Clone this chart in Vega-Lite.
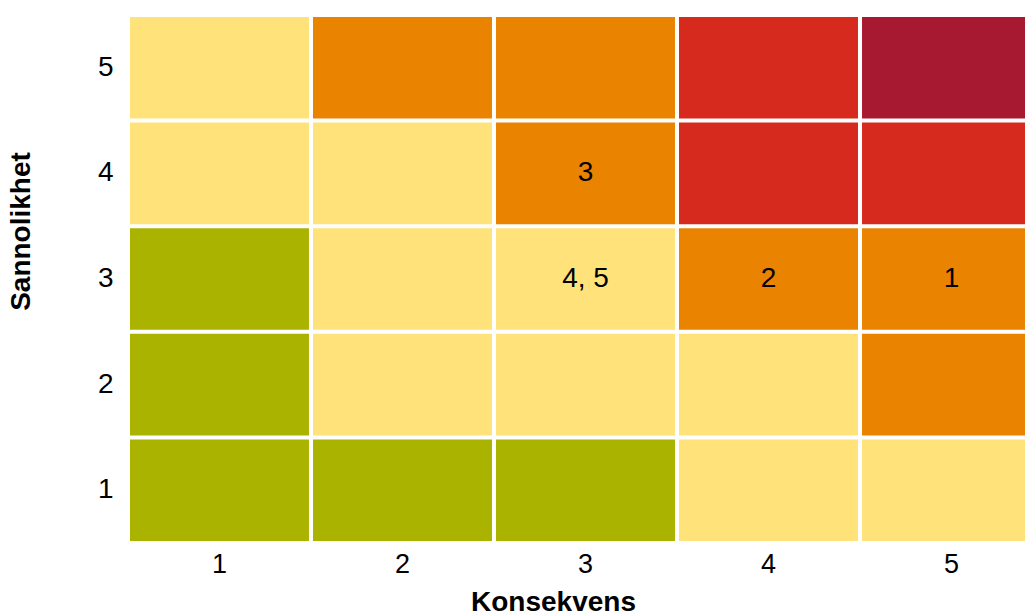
{
  "$schema": "https://vega.github.io/schema/vega-lite/v6.json",
  "width": 911,
  "height": 524,
  "autosize": {"type": "none"},
  "padding": {"left": 130, "top": 17, "right": 0, "bottom": 70},
  "background": "white",
  "config": {"view": {"stroke": null}, "font": "Liberation Sans"},
  "data": {"values": [
    {"k": 1, "s": 5, "niva": "middels", "id": ""},
    {"k": 2, "s": 5, "niva": "høy", "id": ""},
    {"k": 3, "s": 5, "niva": "høy", "id": ""},
    {"k": 4, "s": 5, "niva": "svært høy", "id": ""},
    {"k": 5, "s": 5, "niva": "kritisk", "id": ""},
    {"k": 1, "s": 4, "niva": "middels", "id": ""},
    {"k": 2, "s": 4, "niva": "middels", "id": ""},
    {"k": 3, "s": 4, "niva": "høy", "id": "3"},
    {"k": 4, "s": 4, "niva": "svært høy", "id": ""},
    {"k": 5, "s": 4, "niva": "svært høy", "id": ""},
    {"k": 1, "s": 3, "niva": "lav", "id": ""},
    {"k": 2, "s": 3, "niva": "middels", "id": ""},
    {"k": 3, "s": 3, "niva": "middels", "id": "4, 5"},
    {"k": 4, "s": 3, "niva": "høy", "id": "2"},
    {"k": 5, "s": 3, "niva": "høy", "id": "1"},
    {"k": 1, "s": 2, "niva": "lav", "id": ""},
    {"k": 2, "s": 2, "niva": "middels", "id": ""},
    {"k": 3, "s": 2, "niva": "middels", "id": ""},
    {"k": 4, "s": 2, "niva": "middels", "id": ""},
    {"k": 5, "s": 2, "niva": "høy", "id": ""},
    {"k": 1, "s": 1, "niva": "lav", "id": ""},
    {"k": 2, "s": 1, "niva": "lav", "id": ""},
    {"k": 3, "s": 1, "niva": "lav", "id": ""},
    {"k": 4, "s": 1, "niva": "middels", "id": ""},
    {"k": 5, "s": 1, "niva": "middels", "id": ""}
  ]},
  "encoding": {
    "x": {
      "field": "k", "type": "ordinal", "title": "Konsekvens",
      "scale": {"paddingInner": 0.022, "paddingOuter": 0},
      "axis": {"labelAngle": 0, "labelFontSize": 27, "labelColor": "#000", "labelPadding": 10, "ticks": false, "domain": false,
               "titleFontSize": 28, "titleFontWeight": "bold", "titleColor": "#000",
               "titleX": 423, "titleY": 47, "titleBaseline": "top"}
    },
    "y": {
      "field": "s", "type": "ordinal", "title": "Sannolikhet", "sort": "descending",
      "scale": {"paddingInner": 0.038, "paddingOuter": 0},
      "axis": {"labelFontSize": 28, "labelColor": "#000", "labelPadding": 17, "ticks": false, "domain": false,
               "titleFontSize": 28, "titleFontWeight": "bold", "titleColor": "#000", "titlePadding": 62, "titleY": 214}
    }
  },
  "layer": [
    {
      "mark": {"type": "rect"},
      "encoding": {
        "color": {
          "field": "niva", "type": "nominal", "legend": null,
          "scale": {"domain": ["lav", "middels", "høy", "svært høy", "kritisk"],
                    "range": ["#AAB400", "#FFE37A", "#EA8300", "#D62A1E", "#A71931"]}
        }
      }
    },
    {
      "mark": {"type": "text", "fontSize": 28, "color": "#000"},
      "encoding": {"text": {"field": "id"}}
    }
  ]
}
